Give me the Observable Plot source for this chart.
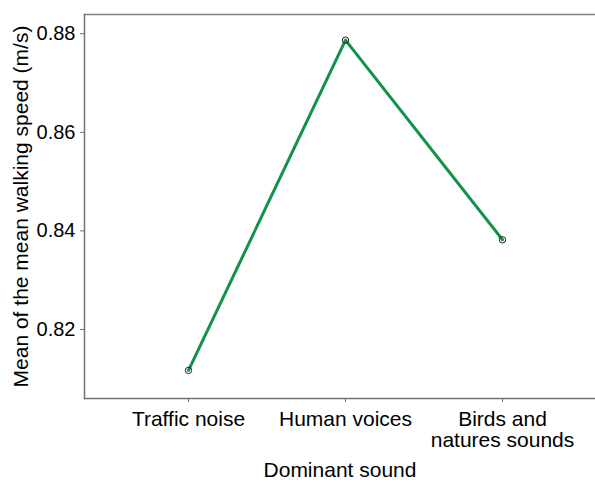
<!DOCTYPE html>
<html>
<head>
<meta charset="utf-8">
<script src="https://cdn.jsdelivr.net/npm/d3@7"></script>
<script src="https://cdn.jsdelivr.net/npm/@observablehq/plot@0.6"></script>
<style>
  html, body { margin: 0; padding: 0; background: #fff; overflow: hidden; }
  #chart svg { display: block; }
</style>
</head>
<body>
<div id="chart"></div>
<script>
const categories = ["Traffic noise", "Human voices", "Birds and\nnatures sounds"];
const meanSpeed = [0.8117, 0.8787, 0.8382];
const yTicks = [0.82, 0.84, 0.86, 0.88];
const xTitle = "Dominant sound";
const yTitle = "Mean of the mean walking speed (m/s)";

const data = categories.map((c, i) => ({sound: c, speed: meanSpeed[i]}));

const chart = Plot.plot({
  width: 595,
  height: 480,
  marginLeft: 84,
  marginRight: 0,
  marginTop: 14,
  marginBottom: 82,
  style: {fontFamily: "'Liberation Sans', Arial, sans-serif", fontSize: "20px", color: "#000", background: "#fff"},
  x: {type: "point", domain: categories, range: [188, 502], padding: 0},
  y: {domain: [0.806, 0.8839]},
  marks: [
    Plot.frame({anchor: "top", stroke: "#808080", strokeWidth: 1.5, strokeOpacity: 1}),
    Plot.frame({anchor: "bottom", stroke: "#707070", strokeWidth: 1.5, strokeOpacity: 1}),
    Plot.frame({anchor: "left", stroke: "#707070", strokeWidth: 1.5, strokeOpacity: 1}),
    Plot.axisY({
      ticks: yTicks, tickFormat: d3.format(".2f"), tickSize: 4, tickPadding: 5,
      stroke: "#707070", strokeOpacity: 1, fontSize: 20, fill: "#000",
      label: null
    }),
    Plot.axisY({
      ticks: [], tickSize: 0, fontSize: 21, fill: "#000",
      label: yTitle, labelAnchor: "center", labelOffset: 71, labelArrow: "none"
    }),
    Plot.axisX({
      tickSize: 4, tickPadding: 9, stroke: "#707070", strokeOpacity: 1, fontSize: 21, fill: "#000",
      lineHeight: 1.0,
      label: null
    }),
    Plot.axisX({
      ticks: [], tickSize: 0, fontSize: 21, fill: "#000",
      label: xTitle, labelAnchor: "center", labelOffset: 78, labelArrow: "none"
    }),
    Plot.line(data, {x: "sound", y: "speed", stroke: "#12924a", strokeWidth: 3}),
    Plot.dot(data, {x: "sound", y: "speed", r: 3.2, stroke: "#222", strokeWidth: 1, fill: "none"})
  ]
});
document.getElementById("chart").appendChild(chart);
</script>
</body>
</html>
